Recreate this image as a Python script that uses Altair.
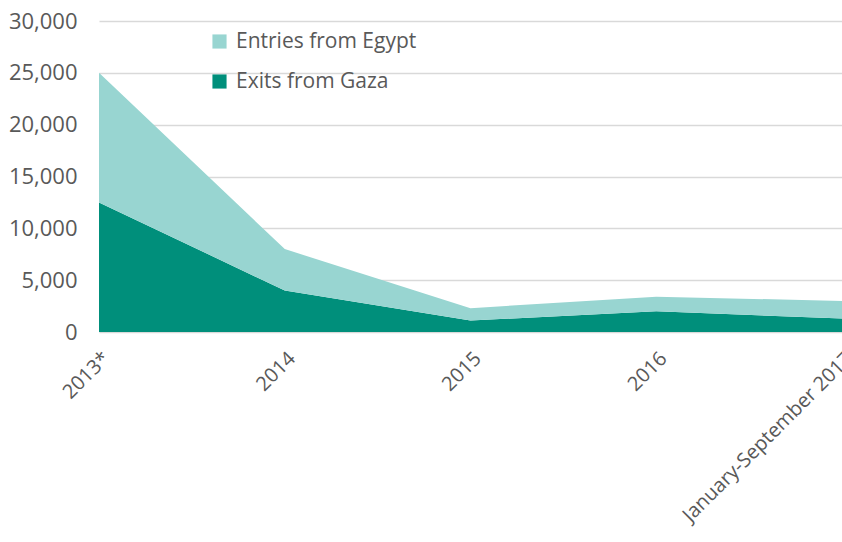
import altair as alt
import pandas as pd

periods = ["2013*", "2014", "2015", "2016", "January-September 2017"]
exits_from_gaza = [12500, 4000, 1100, 2000, 1300]
entries_from_egypt = [12500, 4000, 1200, 1400, 1700]

series = ["Entries from Egypt", "Exits from Gaza"]
colors = ["#98d5d1", "#008f7b"]

rows = []
for p, e, n in zip(periods, exits_from_gaza, entries_from_egypt):
    rows.append({"period": p, "series": "Exits from Gaza", "value": e, "ord": 0})
    rows.append({"period": p, "series": "Entries from Egypt", "value": n, "ord": 1})
df = pd.DataFrame(rows)

FONT = "Open Sans"

chart = alt.Chart(df).mark_area(opacity=1).encode(
    x=alt.X("period:N", sort=periods, scale=alt.Scale(type="point", padding=0),
            axis=alt.Axis(title=None, labelAngle=-45, labelFontSize=20, labelFont=FONT,
                          labelColor="#595959", ticks=False, domain=False, labelPadding=16,
                          labelAlign="right", labelBaseline="top", labelOverlap=False,
                          labelLimit=400)),
    y=alt.Y("value:Q", stack="zero", scale=alt.Scale(domain=[0, 30000]),
            axis=alt.Axis(title=None, values=[0, 5000, 10000, 15000, 20000, 25000, 30000],
                          format=",.0f", labelFontSize=22, labelFont=FONT, labelColor="#595959",
                          ticks=False, domain=False, labelPadding=22,
                          gridColor="#d9d9d9", gridWidth=1.5)),
    color=alt.Color("series:N", scale=alt.Scale(domain=series, range=colors),
                    legend=alt.Legend(title=None, orient="none", legendX=110, legendY=10,
                                      symbolType="square", symbolSize=200, symbolStrokeWidth=0,
                                      labelFontSize=21, labelFont=FONT, labelColor="#595959",
                                      rowPadding=18, labelOffset=6, labelLimit=400)),
    order=alt.Order("ord:Q"),
).properties(
    width=743, height=311,
    autosize=alt.AutoSizeParams(type="none"),
    padding={"left": 99, "top": 21, "right": 0, "bottom": 210},
).configure_view(stroke=None)

chart.save("out.html", embed_options={"renderer": "svg", "actions": False})
